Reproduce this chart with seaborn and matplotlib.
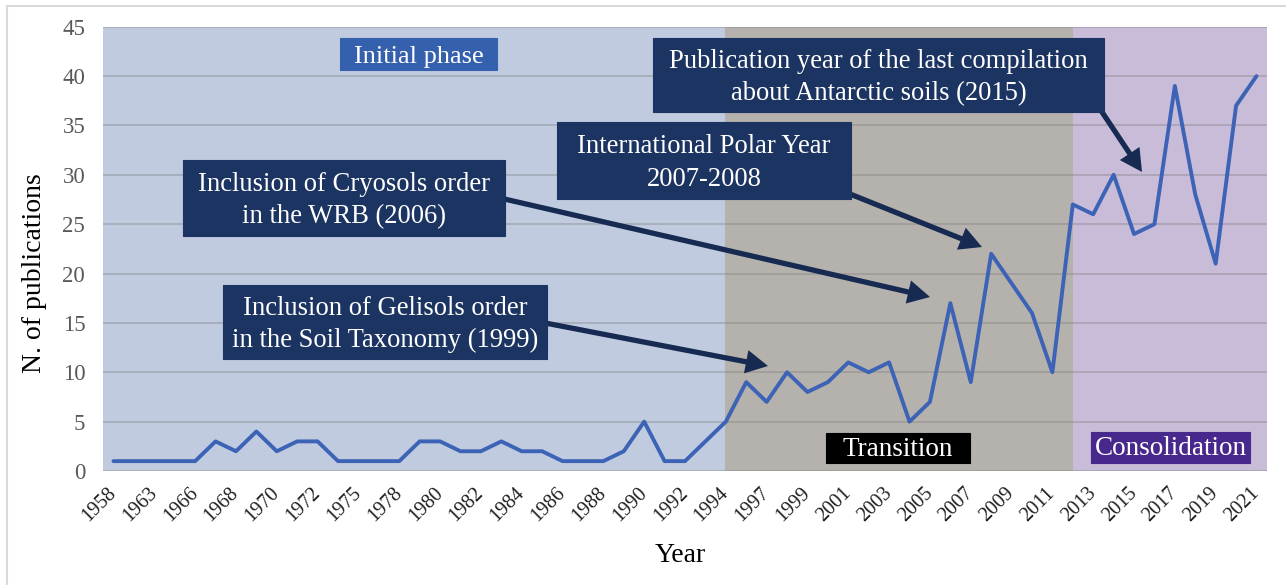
import matplotlib
matplotlib.use("Agg")
import matplotlib.pyplot as plt
import seaborn as sns
import pandas as pd
from matplotlib.patches import Rectangle, FancyArrowPatch, ArrowStyle
from matplotlib.lines import Line2D

# ---------------- data ----------------
years = [1958, 1960, 1963, 1964, 1966, 1967, 1968, 1969, 1970, 1971, 1972,
         1974, 1975, 1977, 1978, 1979, 1980, 1981, 1982, 1983, 1984, 1985,
         1986, 1987, 1988, 1989, 1990, 1991, 1992, 1993, 1994, 1996, 1997,
         1998, 1999, 2000, 2001, 2002, 2003, 2004, 2005, 2006, 2007, 2008,
         2009, 2010, 2011, 2012, 2013, 2014, 2015, 2016, 2017, 2018, 2019,
         2020, 2021]
publications = [1, 1, 1, 1, 1, 3, 2, 4, 2, 3, 3,
                1, 1, 1, 1, 3, 3, 2, 2, 3, 2, 2,
                1, 1, 1, 2, 5, 1, 1, 3, 5, 9, 7,
                10, 8, 9, 11, 10, 11, 5, 7, 17, 9, 22,
                19, 16, 10, 27, 26, 30, 24, 25, 39, 28, 21,
                37, 40]
phase_names = ["Initial phase", "Transition", "Consolidation"]
phase_start_years = [1958, 1994, 2012]
phase_end_years = [1994, 2012, 2021]
annotations = [
    "Inclusion of Gelisols order\nin the Soil Taxonomy (1999)",
    "Inclusion of Cryosols order\nin the WRB (2006)",
    "International Polar Year\n2007-2008",
    "Publication year of the last compilation\nabout Antarctic soils (2015)",
]

# ---------------- style ----------------
sns.set_style("white")
plt.rcParams["font.family"] = ["Liberation Serif", "DejaVu Serif"]

W, H = 1286, 585
fig = plt.figure(figsize=(W / 100, H / 100), dpi=100)
fig.patch.set_facecolor("white")

left_px, right_px, top_px, bot_px = 103.3, 1266.7, 26.7, 471.0
ax = fig.add_axes([left_px / W, 1 - bot_px / H,
                   (right_px - left_px) / W, (bot_px - top_px) / H])

df = pd.DataFrame({"pos": range(len(years)), "year": years, "n": publications})

# phase shading
phase_colors = ["#c0cbe0", "#b5b1ac", "#c9bcd9"]
n = len(years)
def edge_pos(y, first):
    if y == years[0] and first:
        return -0.5
    if y == years[-1] and not first:
        return n - 0.5
    return years.index(y) - (0.05 if y == 1994 else 0.0)
for s, e, c in zip(phase_start_years, phase_end_years, phase_colors):
    ax.axvspan(edge_pos(s, True), edge_pos(e, False), ymin=0, ymax=1,
               color=c, lw=0, zorder=0.2)

sns.lineplot(data=df, x="pos", y="n", ax=ax, color="#3d63b6", lw=2.8,
             zorder=3, legend=False)

ax.set_xlim(-0.5, n - 0.5)
ax.set_ylim(0, 45)
ax.set_yticks(range(0, 46, 5))
ax.set_xticks(range(0, n, 2))
ax.set_xticklabels([str(y) for y in years[::2]], rotation=45, ha="right",
                   va="center", rotation_mode="anchor")
ax.tick_params(axis="x", length=0, pad=14, labelsize=14.5, labelcolor="#1f1f1f")
ax.tick_params(axis="y", length=0, pad=13, labelsize=16.5, labelcolor="#595959")
ax.set_axisbelow(True)
ax.yaxis.grid(True, color="#7f7f7f", alpha=0.4, lw=1.3, zorder=0.5)
ax.xaxis.grid(False)
for sp in ax.spines.values():
    sp.set_visible(False)
ax.set_xlabel("")
ax.set_ylabel("")
ax.set_facecolor("white")

def fx(x):
    return x / W
def fy(y):
    return 1 - y / H

fig.text(fx(35), fy(273), "N. of publications", rotation=90, ha="center",
         va="center", fontsize=20, color="black")
fig.text(fx(680), fy(555), "Year", ha="center", va="center", fontsize=20,
         color="black")

# outer frame (top and left visible)
fig.add_artist(Line2D([fx(7), fx(1286)], [fy(6), fy(6)], color="#d9d9d9",
                      lw=1.5, transform=fig.transFigure))
fig.add_artist(Line2D([fx(7), fx(7)], [fy(6), fy(585)], color="#d9d9d9",
                      lw=1.5, transform=fig.transFigure))

navy = "#1c3461"
def box(x0, y0, x1, y1, text, face, fs=19.2, ls=1.38, dy=2.5):
    r = Rectangle((fx(x0), fy(y1)), fx(x1) - fx(x0), fy(y0) - fy(y1),
                  transform=fig.transFigure, facecolor=face, edgecolor=face,
                  lw=0.8, zorder=5)
    fig.add_artist(r)
    fig.text(fx((x0 + x1) / 2), fy((y0 + y1) / 2 + dy), text, ha="center",
             va="center", color="white", fontsize=fs, linespacing=ls,
             zorder=6)

def arrow(x0, y0, x1, y1):
    a = FancyArrowPatch((fx(x0), fy(y0)), (fx(x1), fy(y1)),
                        transform=fig.transFigure,
                        arrowstyle=ArrowStyle.Simple(head_length=0.8,
                                                     head_width=0.85,
                                                     tail_width=0.19),
                        mutation_scale=20, facecolor="#162a52",
                        edgecolor="none", shrinkA=0, shrinkB=0, zorder=4)
    fig.add_artist(a)

arrow(540, 322, 768, 366)
arrow(500, 198, 930, 297)
arrow(845, 192, 982, 247)
arrow(1098, 106, 1142, 172)

box(223, 285, 547, 359, annotations[0], navy)
box(183, 160, 505, 236, annotations[1], navy)
box(557, 122, 851, 199, annotations[2], navy)
box(653, 38, 1104, 112, annotations[3], navy)

box(340, 38, 497, 70, phase_names[0], "#3560ad", fs=19, dy=2.5)
box(826, 433, 970, 463, phase_names[1], "#000000", fs=19.5, dy=1)
box(1091, 432, 1250, 463, phase_names[2], "#48288c", fs=19.5, dy=1)

fig.savefig("out.png", dpi=100)
